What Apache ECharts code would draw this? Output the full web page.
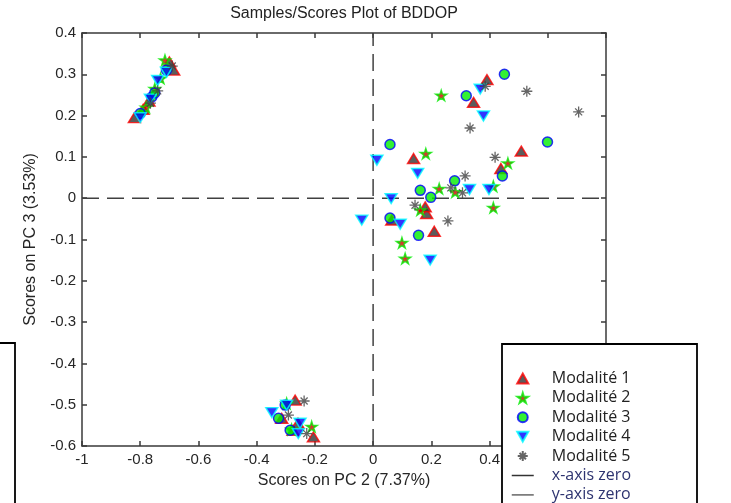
<!DOCTYPE html>
<html>
<head>
<meta charset="utf-8">
<script src="https://cdn.jsdelivr.net/npm/echarts@6/dist/echarts.min.js"></script>
<style>
html,body{margin:0;padding:0;background:#fff;}
#chart{width:731px;height:503px;}
</style>
</head>
<body>
<div id="chart"></div>
<script>
// ---- data (PC2, PC3 scores) ----
var mod1 = [
  [-0.82,0.195],[-0.77,0.235],[-0.70,0.33],[-0.685,0.31],[-0.79,0.215],
  [0.391,0.287],[0.345,0.232],[0.139,0.096],[0.509,0.114],[0.439,0.072],[0.184,-0.037],[0.21,-0.08],[0.064,-0.053],[0.179,-0.021],
  [-0.268,-0.489],[-0.205,-0.578],[-0.314,-0.533],[-0.275,-0.562],[-0.258,-0.545]
];
var mod2 = [
  [-0.715,0.334],[-0.78,0.22],[-0.75,0.265],[-0.73,0.29],
  [0.234,0.249],[0.181,0.108],[0.227,0.023],[0.282,0.015],[0.463,0.085],[0.413,0.029],[0.413,-0.023],[0.162,-0.029],[0.099,-0.108],[0.11,-0.146],
  [-0.211,-0.553],[-0.297,-0.497],[-0.28,-0.56]
];
var mod3 = [
  [-0.80,0.205],[-0.76,0.245],[-0.71,0.31],[-0.75,0.255],
  [0.451,0.30],[0.32,0.248],[0.058,0.13],[0.599,0.136],[0.28,0.042],[0.444,0.054],[0.162,0.019],[0.198,0.002],[0.058,-0.048],[0.156,-0.09],
  [-0.325,-0.533],[-0.285,-0.562],[-0.302,-0.501]
];
var mod4 = [
  [-0.80,0.195],[-0.74,0.285],[-0.71,0.305],[-0.765,0.24],
  [0.013,0.092],[0.368,0.264],[0.379,0.199],[0.153,0.06],[0.062,-0.001],[0.331,0.021],[0.398,0.021],[0.093,-0.063],[-0.039,-0.053],[0.196,-0.15],
  [-0.348,-0.519],[-0.251,-0.545],[-0.257,-0.57],[-0.297,-0.501]
];
var mod5 = [
  [-0.69,0.32],[-0.765,0.23],[-0.74,0.26],
  [0.385,0.271],[0.528,0.259],[0.706,0.209],[0.333,0.17],[0.419,0.099],[0.316,0.054],[0.267,0.025],[0.307,0.013],[0.144,-0.017],[0.257,-0.055],
  [-0.237,-0.491],[-0.291,-0.525],[-0.228,-0.57]
];
var xZero = [[-1,0],[0.8,0]];
var yZero = [[0,-0.6],[0,0.4]];
var xRange = [-1, 0.8];
var yRange = [-0.6, 0.4];
var seriesNames = ['Modalité 1','Modalité 2','Modalité 3','Modalité 4','Modalité 5','x-axis zero','y-axis zero'];
var titleText = 'Samples/Scores Plot of BDDOP';
var xName = 'Scores on PC 2 (7.37%)';
var yName = 'Scores on PC 3 (3.53%)';

var FONT = '"Liberation Sans", Arial, sans-serif';
var axisCol = '#3a3a3a';
function fmt(v){ return (+v.toFixed(1)).toString(); }

function axisBase(extra){
  var o = {
    type:'value', splitLine:{show:false},
    axisLine:{show:true, onZero:false, lineStyle:{color:axisCol, width:1.5}},
    axisTick:{show:true, inside:true, length:5, lineStyle:{color:axisCol, width:1.5}},
    axisLabel:{show:true, color:'#262626', fontSize:15, fontFamily:FONT, formatter:fmt, margin:6}
  };
  for (var k in extra) o[k] = extra[k];
  return o;
}

var chart = echarts.init(document.getElementById('chart'), null, {renderer:'canvas'});
var hiddenSym = {color:'rgba(0,0,0,0)', borderWidth:0, opacity:0};
var option = {
  animation:false,
  grid:{left:82, top:33, width:524, height:413, containLabel:false},
  xAxis:[
    axisBase({position:'bottom', min:xRange[0], max:xRange[1], interval:0.2,
      name:xName, nameLocation:'middle', nameGap:27,
      nameTextStyle:{fontSize:16, fontFamily:FONT, color:'#262626'}}),
    axisBase({position:'top', min:xRange[0], max:xRange[1], interval:0.2,
      axisLabel:{show:false}})
  ],
  yAxis:[
    axisBase({position:'left', min:yRange[0], max:yRange[1], interval:0.1,
      name:yName, nameLocation:'middle', nameGap:43,
      nameTextStyle:{fontSize:16, fontFamily:FONT, color:'#262626'}}),
    axisBase({position:'right', min:yRange[0], max:yRange[1], interval:0.1,
      axisLabel:{show:false}})
  ],
  legend:{
    orient:'vertical', left:511, top:369, height:160, padding:0, z:20,
    itemWidth:22, itemHeight:10, itemGap:0.4, symbolKeepAspect:true,
    textStyle:{fontSize:16, fontFamily:'"Open Sans", sans-serif', color:'#222', lineHeight:19, padding:[0,0,0,13]},
    data:[
      {name:seriesNames[0]},
      {name:seriesNames[1]},
      {name:seriesNames[2]},
      {name:seriesNames[3]},
      {name:seriesNames[4]},
      {name:seriesNames[5], itemStyle:hiddenSym, lineStyle:{type:'solid', color:'#333', width:1.5}, textStyle:{color:'#2e3470'}},
      {name:seriesNames[6], itemStyle:hiddenSym, lineStyle:{type:'solid', color:'#666', width:1.5}, textStyle:{color:'#2e3470'}}
    ]
  },
  graphic:[
    {type:'text', x:344, y:6, z:20, style:{text:titleText, fill:'#222', font:'16px "Liberation Sans", Arial, sans-serif', textAlign:'center', textVerticalAlign:'top'}},
    {type:'rect', z:15, shape:{x:502, y:344, width:195, height:175}, style:{fill:'#fff', stroke:'#000', lineWidth:1.8}},
    {type:'rect', z:15, shape:{x:-10, y:343, width:25, height:175}, style:{fill:'none', stroke:'#000', lineWidth:1.8}}
  ],
  series:[
    {name:seriesNames[5], type:'line', data:xZero, symbol:'none', z:1, silent:true,
      lineStyle:{color:'#404040', width:1.5, type:[17,8]}},
    {name:seriesNames[6], type:'line', data:yZero, symbol:'none', z:1, silent:true,
      lineStyle:{color:'#404040', width:1.5, type:[17,8]}},
    {name:seriesNames[0], type:'scatter', data:mod1, symbol:'path://M5,0 L10,9 L0,9 Z', symbolSize:[12,11], symbolKeepAspect:true,
      itemStyle:{color:'#333333', borderColor:'#ff0000', borderWidth:1.5}},
    {name:seriesNames[1], type:'scatter', data:mod2, symbolKeepAspect:true,
      symbol:'path://M50,0 L61,35 L98,35 L68,57 L79,91 L50,70 L21,91 L32,57 L2,35 L39,35 Z', symbolSize:11,
      itemStyle:{color:'#d00000', borderColor:'#00ee00', borderWidth:1.5}},
    {name:seriesNames[2], type:'scatter', data:mod3, symbol:'circle', symbolSize:10, symbolKeepAspect:true,
      itemStyle:{color:'#00ee00', borderColor:'#0000ff', borderWidth:1.5}},
    {name:seriesNames[3], type:'scatter', data:mod4, symbol:'path://M0,0 L10,0 L5,9 Z', symbolSize:[12,11], symbolKeepAspect:true,
      itemStyle:{color:'#0000ff', borderColor:'#00ffff', borderWidth:1.5}},
    {name:seriesNames[4], type:'scatter', data:mod5, symbolKeepAspect:true,
      symbol:'path://M5,0 L5,10 M0,5 L10,5 M1.8,1.8 L8.2,8.2 M8.2,1.8 L1.8,8.2', symbolSize:11,
      itemStyle:{color:'rgba(0,0,0,0)', borderColor:'#404040', borderWidth:1.3}}
  ]
};
chart.setOption(option);
</script>
</body>
</html>
